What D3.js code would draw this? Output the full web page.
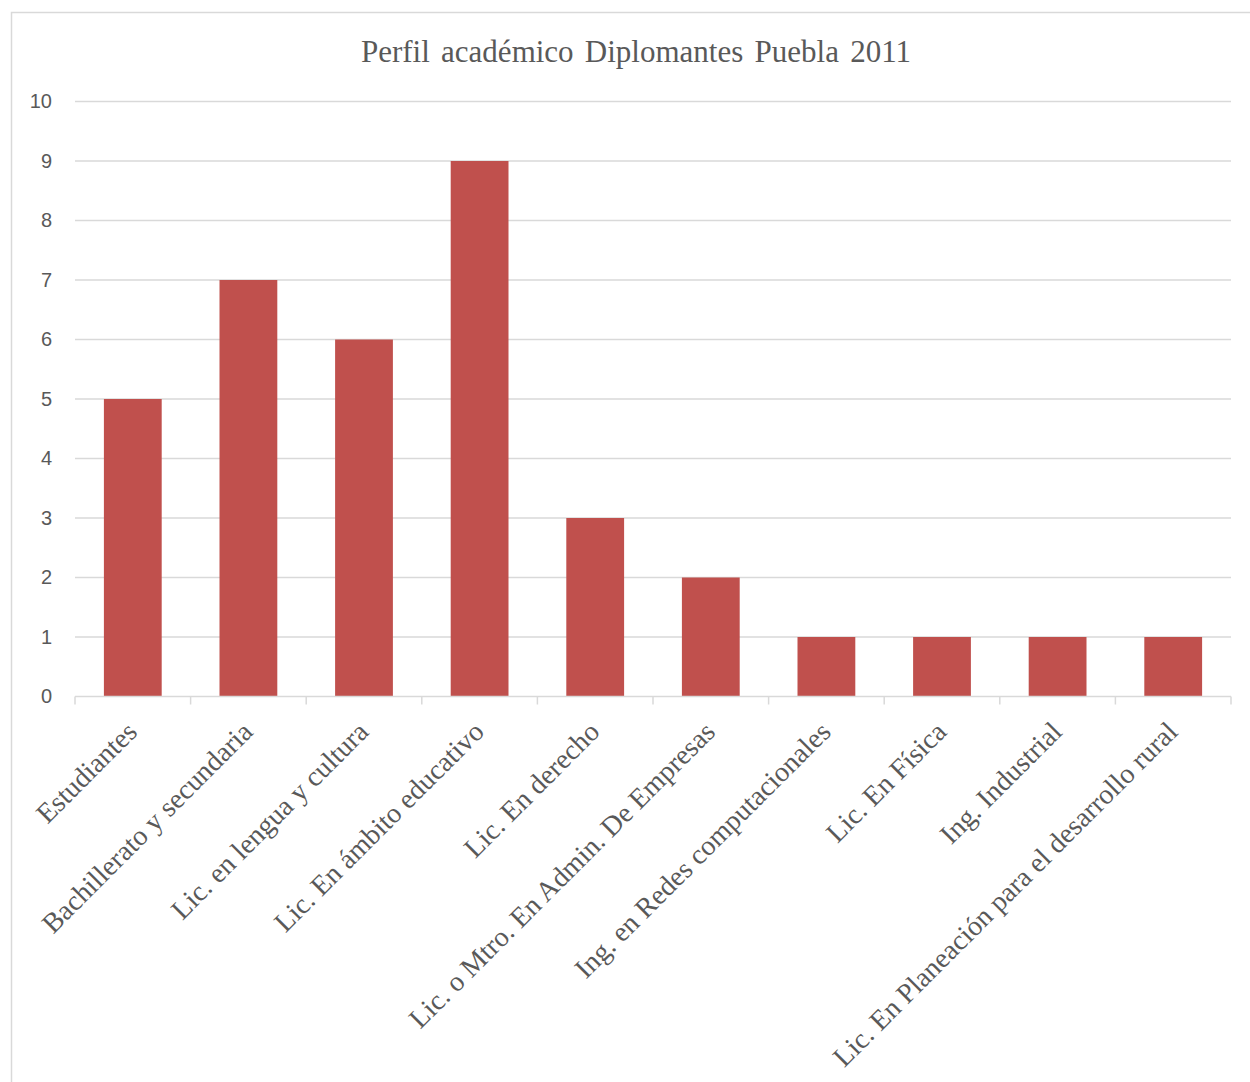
<!DOCTYPE html>
<html>
<head>
<meta charset="utf-8">
<script src="https://cdn.jsdelivr.net/npm/d3@7"></script>
<style>
  html, body { margin: 0; padding: 0; background: #fff; }
  svg { display: block; }
</style>
</head>
<body>
<svg id="chart" width="1250" height="1082"></svg>
<script>
// Academic profile of the 2011 Puebla diploma cohort
const title = "Perfil académico Diplomantes Puebla 2011";
const categories = [
  "Estudiantes",
  "Bachillerato y secundaria",
  "Lic. en lengua y cultura",
  "Lic. En ámbito educativo",
  "Lic. En derecho",
  "Lic. o Mtro. En Admin. De Empresas",
  "Ing. en Redes computacionales",
  "Lic. En Física",
  "Ing. Industrial",
  "Lic. En Planeación para el desarrollo rural"
];
const values = [5, 7, 6, 9, 3, 2, 1, 1, 1, 1];
const yTicks = [0, 1, 2, 3, 4, 5, 6, 7, 8, 9, 10];

const svg = d3.select("#chart");
const plot = { left: 75, right: 1231, top: 101.5, bottom: 696.5 };
const serif = "'Liberation Serif', 'Times New Roman', serif";
const sans = "'Liberation Sans', Arial, sans-serif";
const textColor = "#595959";
const gridColor = "#d9d9d9";

// chart frame
svg.append("rect")
  .attr("x", 11.5).attr("y", 12.5)
  .attr("width", 1260).attr("height", 1100)
  .attr("fill", "#fff").attr("stroke", gridColor).attr("stroke-width", 1.5);

const x = d3.scaleBand()
  .domain(categories)
  .range([plot.left, plot.right])
  .paddingInner(0.5).paddingOuter(0.25);

const y = d3.scaleLinear()
  .domain([0, 10])
  .range([plot.bottom, plot.top]);

// horizontal gridlines
svg.append("g")
  .selectAll("line")
  .data(yTicks.filter(d => d > 0))
  .join("line")
  .attr("x1", plot.left).attr("x2", plot.right)
  .attr("y1", d => y(d)).attr("y2", d => y(d))
  .attr("stroke", gridColor).attr("stroke-width", 1.3);

// y axis labels
const yAxis = d3.axisLeft(y).tickValues(yTicks).tickSize(0).tickPadding(23);
svg.append("g")
  .attr("transform", `translate(${plot.left},0)`)
  .call(yAxis)
  .call(g => g.select(".domain").remove())
  .call(g => g.selectAll("text")
    .attr("font-family", sans)
    .attr("font-size", 20)
    .attr("fill", textColor));

// bars
svg.append("g")
  .selectAll("rect")
  .data(values)
  .join("rect")
  .attr("x", (d, i) => x(categories[i]))
  .attr("y", d => y(d))
  .attr("width", x.bandwidth())
  .attr("height", d => y(0) - y(d))
  .attr("fill", "#c0504d");

// category axis with ticks between bands
const xAxisG = svg.append("g");
xAxisG.append("line")
  .attr("x1", plot.left).attr("x2", plot.right)
  .attr("y1", y(0)).attr("y2", y(0))
  .attr("stroke", gridColor).attr("stroke-width", 1.5);
const boundaries = d3.range(categories.length + 1)
  .map(i => plot.left + i * (plot.right - plot.left) / categories.length);
xAxisG.selectAll("line.tick")
  .data(boundaries)
  .join("line")
  .attr("class", "tick")
  .attr("x1", d => d).attr("x2", d => d)
  .attr("y1", y(0)).attr("y2", y(0) + 8)
  .attr("stroke", gridColor).attr("stroke-width", 1.5);

xAxisG.selectAll("text")
  .data(categories)
  .join("text")
  .attr("transform", d => `translate(${x(d) + x.bandwidth() / 2 - 1},${y(0) + 30}) rotate(-45)`)
  .attr("text-anchor", "end")
  .attr("dy", "0.35em")
  .attr("font-family", serif)
  .attr("font-size", 28)
  .attr("fill", textColor)
  .text(d => d);

// title
svg.append("text")
  .attr("x", 636).attr("y", 62)
  .attr("text-anchor", "middle")
  .attr("font-family", serif)
  .attr("font-size", 31)
  .attr("word-spacing", 3.5)
  .attr("fill", textColor)
  .text(title);
</script>
</body>
</html>
